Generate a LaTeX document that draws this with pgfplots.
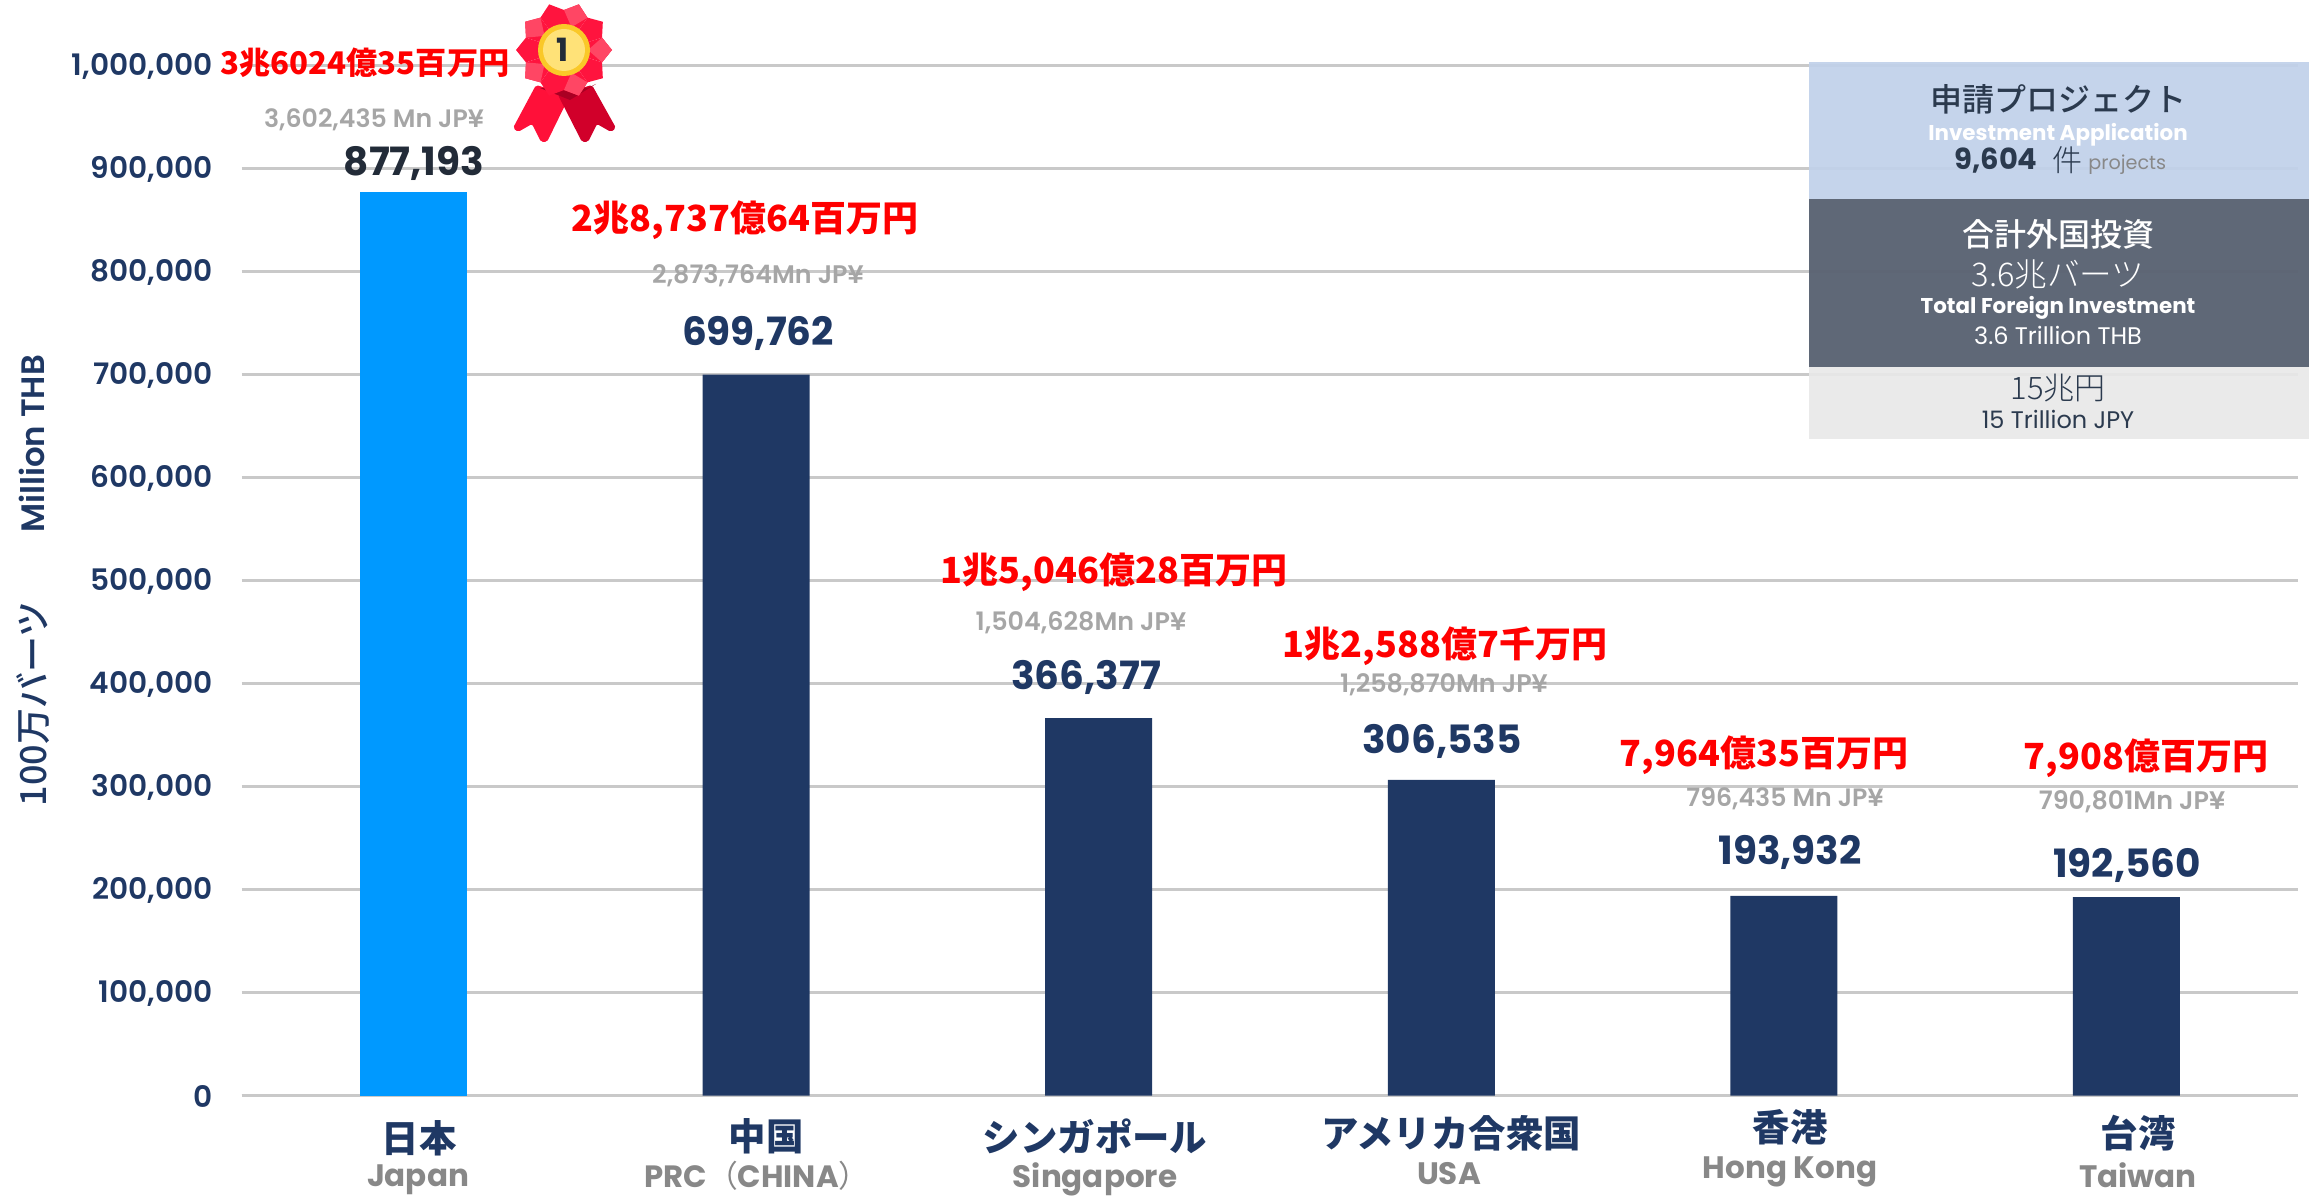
\documentclass[border=0pt]{standalone}
\usepackage{fontspec}
\usepackage{pgfplots}
\pgfplotsset{compat=1.18}
\setmainfont{Poppins}
\newfontfamily\popS{Poppins SemiBold}
\newfontfamily\cjk{Noto Sans CJK JP}
\newfontfamily\cjkm{Noto Sans CJK JP Medium}
\newfontfamily\cjkl{Noto Sans CJK JP Light}
\definecolor{navy}{HTML}{1F3864}
\definecolor{sky}{HTML}{0099FF}
\definecolor{gridc}{HTML}{C9C9C9}
\definecolor{greyl}{HTML}{A6A6A6}
\definecolor{greye}{HTML}{888888}
\definecolor{ink}{HTML}{222B38}
\definecolor{pink}{HTML}{2B3A4E}
\newcommand\fs[1]{\fontsize{#1}{#1}\selectfont}
\begin{document}
\begin{tikzpicture}
\useasboundingbox (0,0) rectangle (1161.5pt,-598.5pt);
\begin{axis}[
  at={(120.75pt,-547.75pt)}, anchor=south west,
  scale only axis, width=1028.5pt, height=515pt,
  xmin=-0.502, xmax=5.502, ymin=0, ymax=1000000,
  axis x line*=bottom, axis y line*=left,
  x axis line style={draw=gridc,line width=1.5pt,-},
  y axis line style={draw=none,-},
  xtick=\empty,
  ytick={0,100000,200000,300000,400000,500000,600000,700000,800000,900000,1000000},
  scaled y ticks=false,
  ymajorgrids, major grid style={draw=gridc,line width=1.5pt},
  major tick length=0pt,
  yticklabel style={/pgf/number format/fixed,/pgf/number format/1000 sep={,},/pgf/number format/assume math mode=true,
    font=\popS\fs{14.8},text=navy,anchor=east,xshift=-11pt,yshift=-0.3pt},
  ybar, bar shift=0pt, bar width=53.5pt,
]
\addplot[fill=sky,draw=none] coordinates {(0,877193)};
\addplot[fill=navy,draw=none] coordinates {(1,699762) (2,366377) (3,306535) (4,193932) (5,192560)};
\end{axis}
\begin{scope}[x=.5pt,y=-.5pt,every node/.style={inner sep=0pt,align=center}]
% medal
\fill[rounded corners=1pt,fill={rgb,255:red,255;green,16;blue,57}] (536,85)--(513,128)--(518,132)--(532,124)--(541,142)--(547,142)--(570,95)--cycle;
\fill[rounded corners=1pt,fill={rgb,255:red,209;green,0;blue,42}] (592,85)--(616,128)--(611,132)--(597,124)--(588,142)--(582,142)--(558,95)--cycle;
\fill[fill={rgb,255:red,170;green,0;blue,35}] (540,88)--(588,88)--(596,84)--(570,100)--cycle;
\foreach \a in {0,36,...,324}{
  \pgfmathsetmacro\b{\a+18}\pgfmathsetmacro\d{\a-18}
  \fill[fill={rgb,255:red,255;green,20;blue,62}] ([shift={(\d:40)}]564,50)--([shift={(\a:48)}]564,50)--([shift={(\b:40)}]564,50)--(564,50)--cycle;
}
\foreach \a in {0,72,...,288}{
  \pgfmathsetmacro\b{\a+18}\pgfmathsetmacro\d{\a-18}
  \fill[fill={rgb,255:red,255;green,70;blue,100}] ([shift={(\a:48)}]564,50)--([shift={(\b:40)}]564,50)--([shift={(\a:24)}]564,50)--([shift={(\d:40)}]564,50)--cycle;
}
\fill[fill={rgb,255:red,250;green,200;blue,40}] (564,50) circle (26);
\fill[fill={rgb,255:red,255;green,226;blue,120}] (564,50) circle (21);
\node[font=\bfseries\fs{16},text=ink] at (563,50) {1};
% red labels
\node[font=\cjk\bfseries\fs{15.6},text=red] at (365,63) {3兆6024億35百万円};
\node[font=\cjk\bfseries\fs{18},text=red] at (745,220) {2兆8,737億64百万円};
\node[font=\cjk\bfseries\fs{18},text=red] at (1114,572) {1兆5,046億28百万円};
\node[font=\cjk\bfseries\fs{18},text=red] at (1445,646) {1兆2,588億7千万円};
\node[font=\cjk\bfseries\fs{18},text=red] at (1764,755) {7,964億35百万円};
\node[font=\cjk\bfseries\fs{18},text=red] at (2146,758) {7,908億百万円};
% grey labels
\node[font=\popS\fs{12.6},text=greyl] at (374,120) {3,602,435 Mn JP¥};
\node[font=\popS\fs{12.7},text=greyl] at (758,276) {2,873,764Mn JP¥};
\node[font=\popS\fs{12.7},text=greyl] at (1081,623) {1,504,628Mn JP¥};
\node[font=\popS\fs{12.7},text=greyl] at (1444,685) {1,258,870Mn JP¥};
\node[font=\popS\fs{12.6},text=greyl] at (1785,799) {796,435 Mn JP¥};
\node[font=\popS\fs{12.7},text=greyl] at (2132,802) {790,801Mn JP¥};
% values
\node[font=\bfseries\fs{19.5},text=ink] at (414,163) {877,193};
\node[font=\bfseries\fs{19.5},text=navy] at (758,333) {699,762};
\node[font=\bfseries\fs{19.5},text=navy] at (1086,677) {366,377};
\node[font=\bfseries\fs{19.5},text=navy] at (1442,741) {306,535};
\node[font=\bfseries\fs{19.5},text=navy] at (1790,852) {193,932};
\node[font=\bfseries\fs{19.5},text=navy] at (2127,865) {192,560};
% categories
\node[font=\cjk\bfseries\fs{18.7},text=navy] at (419,1138) {日本};
\node[font=\bfseries\fs{15.5},text=greye] at (418,1180) {Japan};
\node[font=\cjk\bfseries\fs{18.7},text=navy] at (766,1136) {中国};
\node[font=\bfseries\fs{15.4},text=greye] at (757,1176) {PRC{\cjk\mdseries（}CHINA{\cjk\mdseries）}};
\node[font=\cjk\bfseries\fs{18.7},text=navy] at (1095,1136) {シンガポール};
\node[font=\bfseries\fs{15.5},text=greye] at (1095,1179) {Singapore};
\node[font=\cjk\bfseries\fs{18.7},text=navy] at (1451,1133) {アメリカ合衆国};
\node[font=\bfseries\fs{15.5},text=greye] at (1449,1174) {USA};
\node[font=\cjk\bfseries\fs{18.7},text=navy] at (1790,1127) {香港};
\node[font=\bfseries\fs{15.5},text=greye] at (1790,1172) {Hong Kong};
\node[font=\cjk\bfseries\fs{18.7},text=navy] at (2138,1133) {台湾};
\node[font=\bfseries\fs{15.5},text=greye] at (2138,1175) {Taiwan};
% y titles
\node[font=\cjkm\fs{18},text=navy,rotate=90] at (33,704) {100万バーツ};
\node[font=\popS\fs{16.2},text=navy,rotate=90] at (32,444) {Million THB};
% panels
\fill[fill={rgb,255:red,193;green,209;blue,234},fill opacity=.93] (1809,62) rectangle (2309,199);
\fill[fill={rgb,255:red,92;green,101;blue,116},fill opacity=.98] (1809,199) rectangle (2309,367);
\fill[fill={rgb,255:red,232;green,232;blue,232},fill opacity=.93] (1809,367) rectangle (2309,439);
\node[font=\cjkm\fs{16},text=pink] at (2058,99) {申請プロジェクト};
\node[font=\bfseries\fs{10.7},text=white] at (2058,135) {Investment Application};
\node[font=\bfseries\fs{14.5},text=pink,anchor=west] at (1954,161) {9,604};
\node[font=\cjkl\fs{15},text=pink,anchor=west] at (2052,160) {件};
\node[font=\fs{9.6},text=greye,anchor=west] at (2088,165) {projects};
\node[font=\cjkm\fs{16},text=white] at (2058,234) {合計外国投資};
\node[font=\cjkl\fs{16.3},text=white] at (2058,274) {3.6兆バーツ};
\node[font=\bfseries\fs{10.7},text=white] at (2058,308) {Total Foreign Investment};
\node[font=\fs{12},text=white] at (2058,335) {3.6 Trillion THB};
\node[font=\cjkl\fs{15.5},text=pink] at (2058,388) {15兆円};
\node[font=\fs{12},text=pink] at (2058,419) {15 Trillion JPY};
\end{scope}
\end{tikzpicture}
\end{document}
